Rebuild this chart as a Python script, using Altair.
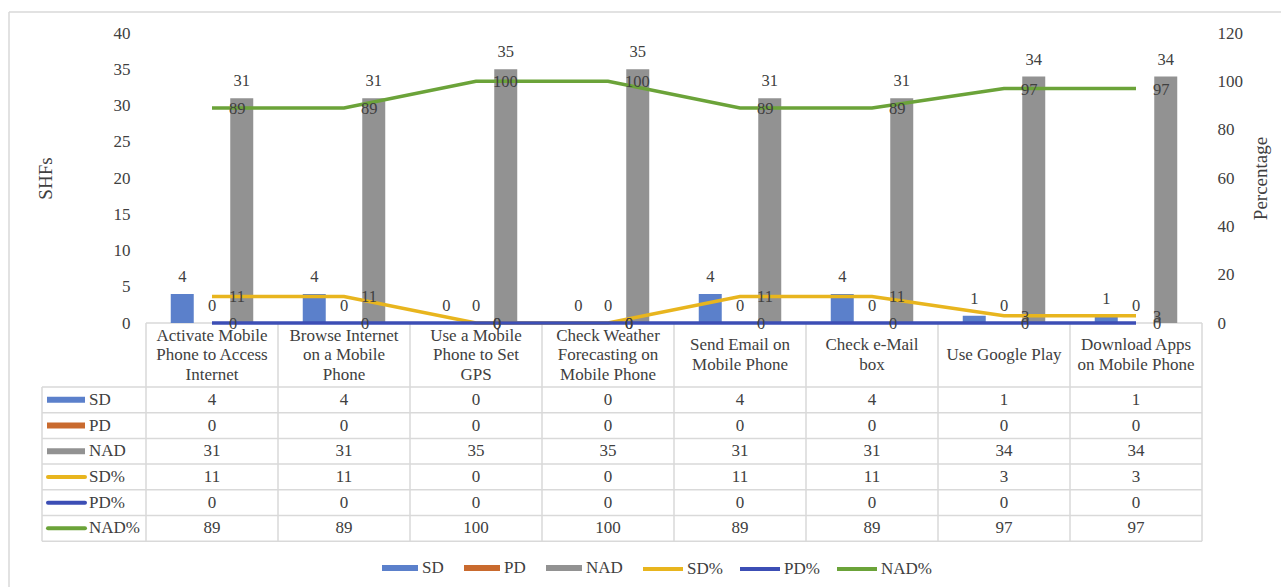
import altair as alt
import pandas as pd

# ---- data -----------------------------------------------------------------
CATEGORIES = [
    "Activate Mobile Phone to Access Internet",
    "Browse Internet on a Mobile Phone",
    "Use a Mobile Phone to Set GPS",
    "Check Weather Forecasting on Mobile Phone",
    "Send Email on Mobile Phone",
    "Check e-Mail box",
    "Use Google Play",
    "Download Apps on Mobile Phone",
]
HEADER_LINES = [
    "Activate Mobile\nPhone to Access\nInternet",
    "Browse Internet\non a Mobile\nPhone",
    "Use a Mobile\nPhone to Set\nGPS",
    "Check Weather\nForecasting on\nMobile Phone",
    "Send Email on\nMobile Phone",
    "Check e-Mail\nbox",
    "Use Google Play",
    "Download Apps\non Mobile Phone",
]
SD = [4, 4, 0, 0, 4, 4, 1, 1]
PD = [0, 0, 0, 0, 0, 0, 0, 0]
NAD = [31, 31, 35, 35, 31, 31, 34, 34]
SD_PCT = [11, 11, 0, 0, 11, 11, 3, 3]
PD_PCT = [0, 0, 0, 0, 0, 0, 0, 0]
NAD_PCT = [89, 89, 100, 100, 89, 89, 97, 97]

BAR_SERIES = ["SD", "PD", "NAD"]
LINE_SERIES = ["SD%", "PD%", "NAD%"]
LEFT_TICKS = [0, 5, 10, 15, 20, 25, 30, 35, 40]
RIGHT_TICKS = [0, 20, 40, 60, 80, 100, 120]

# ---- styling --------------------------------------------------------------
BAR_COLORS = ["#5b80cb", "#c96a2e", "#929292"]
LINE_COLORS = ["#e8b51e", "#3c4eb5", "#6ba339"]
TEXT = "#404040"
GRID = "#d9d9d9"
FONT = "Liberation Serif"
FS = 17
TITLE_FS = 19

# ---- layout (pixels, relative to the plot area's top-left corner) ----------
LEFT, TOP = 146, 33
PLOT_W, PLOT_H = 1056, 290
CANVAS_W, CANVAS_H = 1281, 587
HEADER_H = 64
LINE_H = 19.5
ROW_H = 25.7
KEY_LEFT = -104
ROWS = BAR_SERIES + LINE_SERIES
rows_top = PLOT_H + HEADER_H
rows_bottom = rows_top + ROW_H * len(ROWS)
row_centres = [rows_top + ROW_H * 0.5, rows_top + ROW_H * (len(ROWS) - 0.5)]

# ---- tidy tables ----------------------------------------------------------
bar_values = [SD, PD, NAD]
line_values = [SD_PCT, PD_PCT, NAD_PCT]

bars_df = pd.DataFrame(
    [{"cat": c, "series": s, "value": v}
     for s, vals in zip(BAR_SERIES, bar_values)
     for c, v in zip(CATEGORIES, vals)]
)
lines_df = pd.DataFrame(
    [{"cat": c, "idx": i, "series": s, "pct": v}
     for s, vals in zip(LINE_SERIES, line_values)
     for i, (c, v) in enumerate(zip(CATEGORIES, vals))]
)
table_df = pd.DataFrame(
    [{"cat": c, "series": s, "value": v}
     for s, vals in zip(ROWS, bar_values + line_values)
     for c, v in zip(CATEGORIES, vals)]
)
header_df = pd.DataFrame({"cat": CATEGORIES, "header": HEADER_LINES})
header_df["n"] = header_df["header"].str.count("\n") + 1
one = pd.DataFrame({"k": [0]})

# ---- shared encodings -----------------------------------------------------
x_scale = alt.Scale(domain=CATEGORIES, paddingInner=0, paddingOuter=0)
x_enc = alt.X("cat:N", scale=x_scale, axis=None)
bar_color_scale = alt.Scale(domain=BAR_SERIES, range=BAR_COLORS)
line_color_scale = alt.Scale(domain=LINE_SERIES, range=LINE_COLORS)
row_y = alt.Y(
    "series:N",
    scale=alt.Scale(type="point", domain=ROWS, range=row_centres, padding=0),
    axis=None,
)
x_off = alt.XOffset(
    "series:N",
    scale=alt.Scale(domain=BAR_SERIES, paddingInner=0.227, paddingOuter=0.832),
)

left_axis = alt.Axis(
    values=LEFT_TICKS, domain=False, ticks=False, tickSize=0, grid=False,
    labelOverlap=False, labelPadding=16, labelFontSize=FS, labelColor=TEXT,
    labelFont=FONT, title="SHFs", titleFont=FONT, titleFontSize=TITLE_FS,
    titleFontWeight="normal", titleColor=TEXT, titleAngle=270, titleX=-101,
    titleY=PLOT_H / 2, titleAlign="center", titleBaseline="middle",
)
right_axis = alt.Axis(
    orient="right", values=RIGHT_TICKS, domain=False, ticks=False, tickSize=0,
    grid=False, labelOverlap=False, labelPadding=15, labelFontSize=FS,
    labelColor=TEXT, labelFont=FONT, title="Percentage", titleFont=FONT,
    titleFontSize=TITLE_FS, titleFontWeight="normal", titleColor=TEXT,
    titleAngle=270, titleX=58, titleY=PLOT_H / 2, titleAlign="center",
    titleBaseline="middle",
)
y_count = alt.Y("value:Q", scale=alt.Scale(domain=[0, 40], nice=False), axis=left_axis)
y_pct = alt.Y("pct:Q", scale=alt.Scale(domain=[0, 120], nice=False), axis=right_axis)

bar_legend = alt.Legend(
    orient="none", direction="horizontal", legendX=236, legendY=517,
    title=None, padding=0, symbolType="M-1,-0.17H1V0.17H-1Z", symbolSize=1296,
    symbolStrokeWidth=0, symbolOpacity=1, labelOffset=4, columnPadding=20,
    labelFont=FONT, labelFontSize=FS, labelColor=TEXT,
)
line_legend = alt.Legend(
    orient="none", direction="horizontal", legendX=495, legendY=514,
    title=None, padding=0, symbolType="stroke", symbolSize=1600,
    symbolStrokeWidth=4, symbolOpacity=1, labelOffset=2, columnPadding=9,
    labelFont=FONT, labelFontSize=FS, labelColor=TEXT,
)

# ---- bars (left axis) -----------------------------------------------------
bars = alt.Chart(bars_df).mark_bar().encode(
    x=x_enc,
    xOffset=x_off,
    y=y_count,
    color=alt.Color("series:N", scale=bar_color_scale, legend=bar_legend),
)
bar_labels = alt.Chart(bars_df).mark_text(
    baseline="middle", dy=-17, fontSize=16.5, color=TEXT
).encode(x=x_enc, xOffset=x_off, y=y_count, text="value:Q")
bar_group = alt.layer(bars, bar_labels)

# ---- lines (right axis) ---------------------------------------------------
lines = alt.Chart(lines_df).mark_line(strokeWidth=3.5).encode(
    x=x_enc,
    y=y_pct,
    stroke=alt.Stroke("series:N", scale=line_color_scale, legend=line_legend),
    order="idx:Q",
)
line_labels = alt.Chart(lines_df).mark_text(
    align="left", baseline="middle", dx=17, dy=1, fontSize=16.5, color=TEXT
).encode(x=x_enc, y=y_pct, text="pct:Q")
line_group = alt.layer(lines, line_labels)

# ---- data table under the plot -------------------------------------------
cells = alt.Chart(table_df).mark_text(
    baseline="middle", fontSize=FS, color=TEXT
).encode(x=x_enc, y=row_y, text="value:Q")
bar_keys = alt.Chart(pd.DataFrame({"series": BAR_SERIES})).mark_rule(
    strokeWidth=6, strokeCap="butt"
).encode(
    x=alt.value(-99), x2=alt.value(-61), y=row_y,
    color=alt.Color("series:N", scale=bar_color_scale, legend=None),
)
line_keys = alt.Chart(pd.DataFrame({"series": LINE_SERIES})).mark_rule(
    strokeWidth=4, strokeCap="round"
).encode(
    x=alt.value(-98), x2=alt.value(-61), y=row_y,
    stroke=alt.Stroke("series:N", scale=line_color_scale, legend=None),
)
key_labels = alt.Chart(pd.DataFrame({"series": ROWS})).mark_text(
    align="left", baseline="middle", fontSize=FS, color=TEXT
).encode(x=alt.value(-57), y=row_y, text="series:N")
table_group = alt.layer(cells, bar_keys, line_keys, key_labels)

# category headers: multi-line text, vertically centred in the header row
header_marks = []
for n in sorted(header_df["n"].unique()):
    first_line_y = PLOT_H + HEADER_H / 2 - (n - 1) * LINE_H / 2
    header_marks.append(
        alt.Chart(header_df[header_df["n"] == n]).mark_text(
            baseline="middle", fontSize=FS, color=TEXT,
            lineBreak="\n", lineHeight=LINE_H,
        ).encode(x=x_enc, y=alt.value(first_line_y), text="header:N")
    )


# ---- table grid and frame -------------------------------------------------
def hrule(y, x0, x1, color=GRID, width=1.5):
    return alt.Chart(one).mark_rule(color=color, strokeWidth=width).encode(
        x=alt.value(x0), x2=alt.value(x1), y=alt.value(y)
    )


def vrule(x, y0, y1, color=GRID, width=1.5):
    return alt.Chart(one).mark_rule(color=color, strokeWidth=width).encode(
        x=alt.value(x), y=alt.value(y0), y2=alt.value(y1)
    )


grid = [hrule(PLOT_H, 0, PLOT_W)]
grid += [hrule(rows_top + ROW_H * k, KEY_LEFT, PLOT_W) for k in range(len(ROWS) + 1)]
grid += [
    vrule(KEY_LEFT, rows_top, rows_bottom),
    vrule(PLOT_W, PLOT_H, rows_bottom),
    alt.Chart(pd.DataFrame({"cat": CATEGORIES})).mark_rule(
        color=GRID, strokeWidth=1.5
    ).encode(
        x=alt.X("cat:N", bandPosition=0, scale=x_scale, axis=None),
        y=alt.value(PLOT_H), y2=alt.value(rows_bottom),
    ),
]
frame = [
    hrule(12 - TOP, 9 - LEFT, CANVAS_W - LEFT, width=1.5),
    vrule(9 - LEFT, 12 - TOP, CANVAS_H - TOP, width=1.5),
]

chart = (
    alt.layer(*frame, *grid, bar_group, line_group, table_group, *header_marks)
    .resolve_scale(y="independent")
    .properties(
        width=PLOT_W,
        height=PLOT_H,
        autosize=alt.AutoSizeParams(type="none"),
        padding={"left": LEFT, "top": TOP,
                 "right": CANVAS_W - LEFT - PLOT_W,
                 "bottom": CANVAS_H - TOP - PLOT_H},
        background="white",
    )
    .configure(font=FONT)
    .configure_view(stroke=None)
)

chart.save("out.html", embed_options={"renderer": "svg", "actions": False})
